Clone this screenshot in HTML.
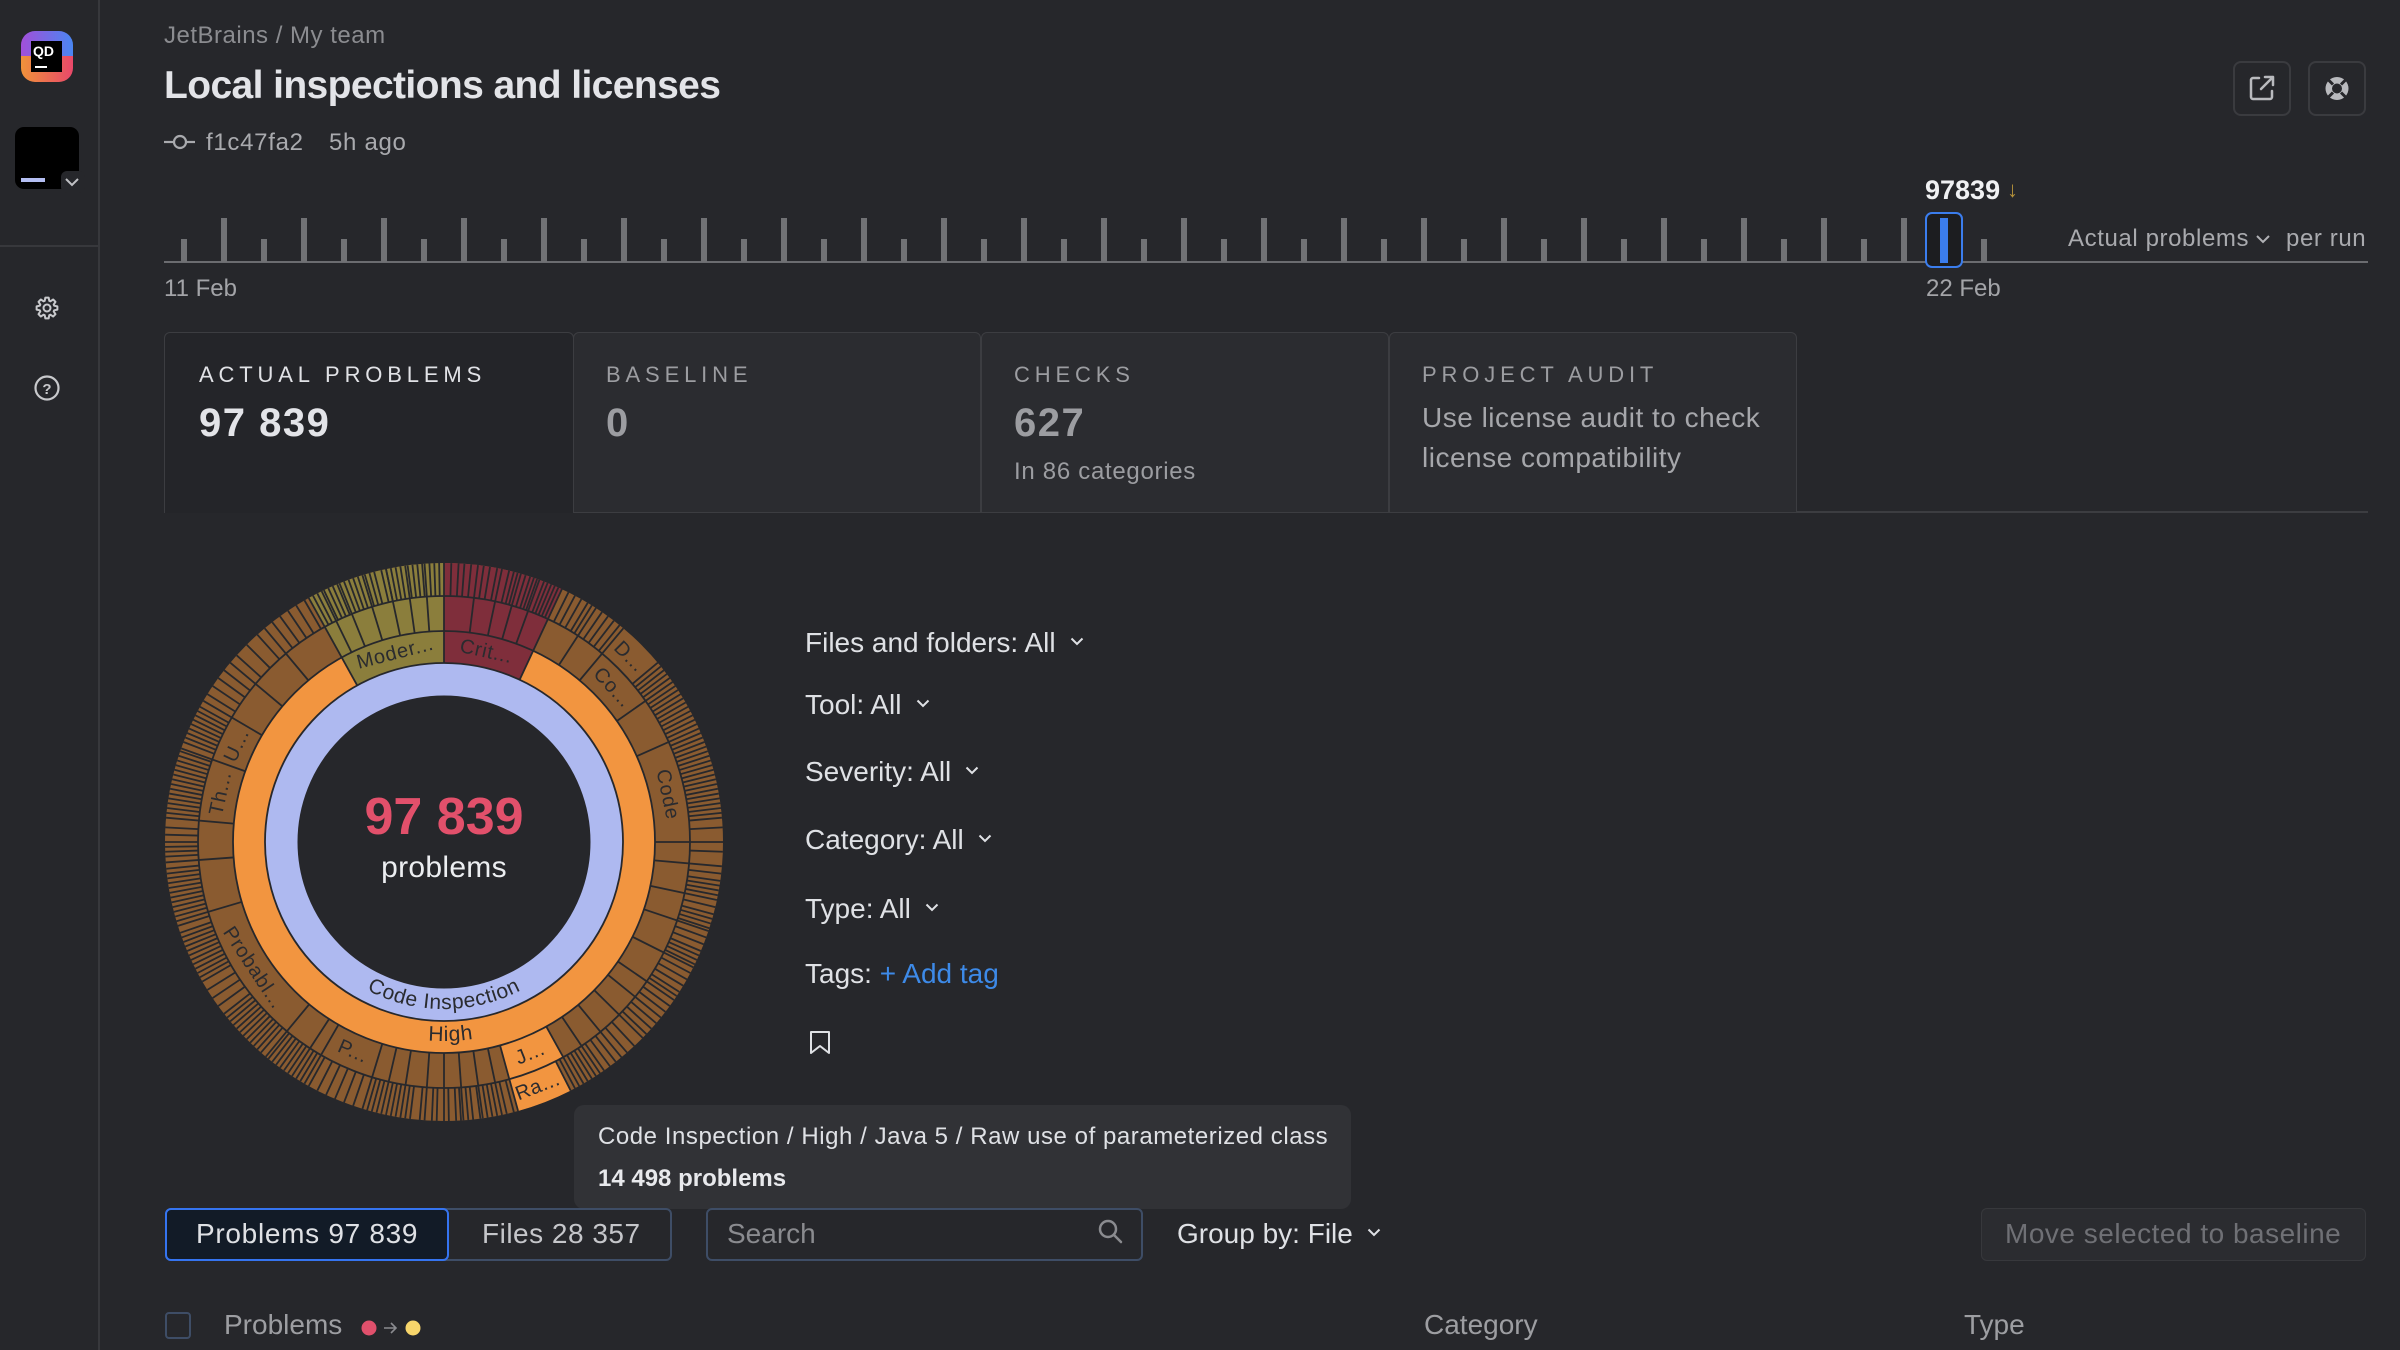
<!DOCTYPE html>
<html><head><meta charset="utf-8"><style>
html,body{margin:0;padding:0}
body{width:2400px;height:1350px;background:#26272b;overflow:hidden;position:relative;font-family:"Liberation Sans",Arial,sans-serif}
.t{position:absolute;white-space:nowrap;line-height:1}
.b{position:absolute;box-sizing:border-box}
.f{font-size:28px;color:#dfe1e5;left:805px}
.lbl{font-size:22px;letter-spacing:4.85px;top:364px}
.val{font-size:40px;font-weight:bold;letter-spacing:1.5px;top:403px}
.chev{display:inline-block;margin-left:14px;vertical-align:middle;position:relative;top:-3px}
</style></head><body>

<!-- sidebar lines -->
<div class="b" style="left:98px;top:0;width:2px;height:1350px;background:#37383c"></div>
<div class="b" style="left:0;top:245px;width:98px;height:2px;background:#37383c"></div>

<!-- tabs -->
<div class="b" style="left:573px;top:332px;width:408px;height:181px;background:#2b2c30;border:1.5px solid #3c3d41;border-radius:6px 6px 0 0"></div>
<div class="b" style="left:981px;top:332px;width:408px;height:181px;background:#2b2c30;border:1.5px solid #3c3d41;border-radius:6px 6px 0 0"></div>
<div class="b" style="left:1389px;top:332px;width:408px;height:181px;background:#2b2c30;border:1.5px solid #3c3d41;border-radius:6px 6px 0 0"></div>
<div class="b" style="left:164px;top:332px;width:410px;height:181px;background:#242529;border:1.5px solid #3c3d41;border-bottom:none;border-radius:6px 6px 0 0"></div>
<div class="b" style="left:1797px;top:511px;width:571px;height:2px;background:#3c3d41"></div>

<!-- top right buttons -->
<div class="b" style="left:2233px;top:61px;width:58px;height:55px;border:2px solid #3a3b3f;border-radius:8px"></div>
<div class="b" style="left:2308px;top:61px;width:58px;height:55px;border:2px solid #3a3b3f;border-radius:8px"></div>

<!-- tooltip -->
<div class="b" style="left:574px;top:1105px;width:777px;height:104px;background:#313236;border-radius:10px"></div>

<!-- controls -->
<div class="b" style="left:165px;top:1208px;width:507px;height:53px;border:2px solid #3e4d66;border-radius:6px"></div>
<div class="b" style="left:165px;top:1208px;width:284px;height:53px;border:2px solid #3574f0;background:#121b27;border-radius:6px"></div>
<div class="b" style="left:706px;top:1208px;width:437px;height:53px;border:2px solid #3e4d66;border-radius:6px"></div>
<div class="b" style="left:1981px;top:1208px;width:385px;height:53px;border:1.5px solid #37383c;background:#2b2c30;border-radius:6px"></div>
<div class="b" style="left:165px;top:1312px;width:26px;height:27px;border:2px solid #3e4d66;border-radius:4px"></div>

<svg width="2400" height="1350" viewBox="0 0 2400 1350" style="position:absolute;left:0;top:0">
<defs>
<linearGradient id="g1" x1="0" x2="1" y1="0" y2="0"><stop offset="0" stop-color="#a24fd9"/><stop offset="1" stop-color="#4a86f2"/></linearGradient>
<linearGradient id="g2" x1="0" x2="1" y1="0" y2="0"><stop offset="0" stop-color="#f0923a"/><stop offset="1" stop-color="#e9486a"/></linearGradient>
<line id="a" x1="0" y1="-179" x2="0" y2="-279"/>
<line id="c" x1="0" y1="-211" x2="0" y2="-279"/>
<line id="t" x1="0" y1="-246" x2="0" y2="-279"/>
<path id="arcCI" d="M -167 0 A 167 167 0 0 0 167 0" fill="none"/>
<path id="arcH" d="M -199 0 A 199 199 0 0 0 199 0" fill="none"/>
</defs>

<!-- logo -->
<path d="M21 56 V45 a14 14 0 0 1 14 -14 H59 a14 14 0 0 1 14 14 V56 Z" fill="url(#g1)"/>
<path d="M21 56 V68 a14 14 0 0 0 14 14 H59 a14 14 0 0 0 14 -14 V56 Z" fill="url(#g2)"/>
<rect x="31" y="41" width="31" height="31" fill="#000"/>
<text x="33" y="56" font-family="Liberation Sans, sans-serif" font-weight="bold" font-size="14" fill="#fff">QD</text>
<rect x="35" y="66" width="12" height="2" fill="#fff"/>

<!-- project tile -->
<rect x="15" y="127" width="64" height="62" rx="9" fill="#000"/>
<rect x="61" y="171" width="24" height="22" rx="6" fill="#26272b"/>
<rect x="21" y="178" width="24" height="4" fill="#b4bef2"/>
<path d="M66 179 l6 6 l6 -6" stroke="#c0c1c5" stroke-width="2" fill="none"/>

<!-- gear -->
<g transform="translate(47,308)" fill="none" stroke="#c8c9cc" stroke-width="2" stroke-linejoin="round">
<polygon points="7.13,-2.32 10.37,-1.64 10.37,1.64 7.13,2.32 6.68,3.41 8.49,6.17 6.17,8.49 3.41,6.68 2.32,7.13 1.64,10.37 -1.64,10.37 -2.32,7.13 -3.41,6.68 -6.17,8.49 -8.49,6.17 -6.68,3.41 -7.13,2.32 -10.37,1.64 -10.37,-1.64 -7.13,-2.32 -6.68,-3.41 -8.49,-6.17 -6.17,-8.49 -3.41,-6.68 -2.32,-7.13 -1.64,-10.37 1.64,-10.37 2.32,-7.13 3.41,-6.68 6.17,-8.49 8.49,-6.17 6.68,-3.41"/>
<circle r="3.5"/>
</g>
<!-- help -->
<circle cx="47" cy="388" r="11.5" fill="none" stroke="#c8c9cc" stroke-width="2.2"/>
<text x="47" y="394" text-anchor="middle" font-family="Liberation Sans, sans-serif" font-weight="bold" font-size="15" fill="#c8c9cc">?</text>

<!-- commit icon -->
<g stroke="#a9aaae" stroke-width="2.2" fill="none">
<line x1="164" y1="142" x2="174" y2="142"/><circle cx="180" cy="142" r="6"/><line x1="186" y1="142" x2="195" y2="142"/>
</g>

<!-- top right icons -->
<g stroke="#b9babe" stroke-width="2.5" fill="none" stroke-linecap="round" stroke-linejoin="round">
<path d="M2259 78 H2253 a2 2 0 0 0 -2 2 V97 a2 2 0 0 0 2 2 H2270 a2 2 0 0 0 2 -2 V91"/>
<path d="M2265 77 H2273 V85 M2273 77 L2261 89"/>
</g>
<circle cx="2337" cy="88.5" r="11.5" fill="#b9babe"/>
<circle cx="2337" cy="88.5" r="5" fill="#26272b"/>
<g stroke="#26272b" stroke-width="3" transform="translate(2337,88.5)">
<line x1="4" y1="-4" x2="9" y2="-9"/><line x1="-4" y1="-4" x2="-9" y2="-9"/><line x1="4" y1="4" x2="9" y2="9"/><line x1="-4" y1="4" x2="-9" y2="9"/>
</g>

<!-- timeline -->
<rect x="164" y="261" width="2204" height="2" fill="#6b6c70"/>
<g fill="#717275">
<rect x="181" y="239" width="6" height="23"/><rect x="261" y="239" width="6" height="23"/><rect x="341" y="239" width="6" height="23"/><rect x="421" y="239" width="6" height="23"/><rect x="501" y="239" width="6" height="23"/><rect x="581" y="239" width="6" height="23"/><rect x="661" y="239" width="6" height="23"/><rect x="741" y="239" width="6" height="23"/><rect x="821" y="239" width="6" height="23"/><rect x="901" y="239" width="6" height="23"/><rect x="981" y="239" width="6" height="23"/><rect x="1061" y="239" width="6" height="23"/><rect x="1141" y="239" width="6" height="23"/><rect x="1221" y="239" width="6" height="23"/><rect x="1301" y="239" width="6" height="23"/><rect x="1381" y="239" width="6" height="23"/><rect x="1461" y="239" width="6" height="23"/><rect x="1541" y="239" width="6" height="23"/><rect x="1621" y="239" width="6" height="23"/><rect x="1701" y="239" width="6" height="23"/><rect x="1781" y="239" width="6" height="23"/><rect x="1861" y="239" width="6" height="23"/><rect x="1981" y="239" width="6" height="23"/>
<rect x="221" y="218" width="6" height="44"/><rect x="301" y="218" width="6" height="44"/><rect x="381" y="218" width="6" height="44"/><rect x="461" y="218" width="6" height="44"/><rect x="541" y="218" width="6" height="44"/><rect x="621" y="218" width="6" height="44"/><rect x="701" y="218" width="6" height="44"/><rect x="781" y="218" width="6" height="44"/><rect x="861" y="218" width="6" height="44"/><rect x="941" y="218" width="6" height="44"/><rect x="1021" y="218" width="6" height="44"/><rect x="1101" y="218" width="6" height="44"/><rect x="1181" y="218" width="6" height="44"/><rect x="1261" y="218" width="6" height="44"/><rect x="1341" y="218" width="6" height="44"/><rect x="1421" y="218" width="6" height="44"/><rect x="1501" y="218" width="6" height="44"/><rect x="1581" y="218" width="6" height="44"/><rect x="1661" y="218" width="6" height="44"/><rect x="1741" y="218" width="6" height="44"/><rect x="1821" y="218" width="6" height="44"/><rect x="1901" y="218" width="6" height="44"/>
</g>
<rect x="1926" y="213" width="36" height="54" rx="6" fill="#1c1d20" stroke="#3b7ded" stroke-width="2"/>
<rect x="1940" y="218" width="8" height="45" fill="#3b7ded"/>

<!-- chevron for Actual problems -->
<path d="M2257 236 l6 6 l6 -6" stroke="#b0b1b5" stroke-width="2" fill="none"/>

<!-- bookmark -->
<path d="M811 1032 h18 v21 l-9 -7 l-9 7 z" fill="none" stroke="#dfe1e5" stroke-width="2" stroke-linejoin="round"/>

<!-- search icon -->
<circle cx="1108" cy="1229" r="8" fill="none" stroke="#8a8b8f" stroke-width="2.5"/>
<line x1="1114" y1="1235" x2="1121" y2="1242" stroke="#8a8b8f" stroke-width="2.5" stroke-linecap="round"/>

<!-- table header dots -->
<circle cx="369" cy="1328" r="7.5" fill="#e0506c"/>
<circle cx="413" cy="1328" r="7.5" fill="#f7d56b"/>
<path d="M384 1328 h12 M391 1323 l5 5 l-5 5" stroke="#8a8b8f" stroke-width="1.6" fill="none"/>

<!-- sunburst -->
<g transform="translate(444,842)">
<circle r="162.75" fill="none" stroke="#aeb9f0" stroke-width="32.5"/>
<circle r="195" fill="none" stroke="#f29540" stroke-width="32"/>
<circle r="228.5" fill="none" stroke="#8a5b30" stroke-width="35"/>
<circle r="262.5" fill="none" stroke="#8a5b30" stroke-width="33"/>
<g transform="rotate(-90)" fill="none">
<circle r="195" stroke="#7f2e3b" stroke-width="32" stroke-dasharray="85.08 3000"/>
<circle r="195" stroke="#8b7e3c" stroke-width="32" stroke-dasharray="98.70 3000" stroke-dashoffset="-1126.52"/>
<circle r="228.5" stroke="#7f2e3b" stroke-width="35" stroke-dasharray="99.70 3000"/>
<circle r="228.5" stroke="#8b7e3c" stroke-width="35" stroke-dasharray="115.65 3000" stroke-dashoffset="-1320.05"/>
<circle r="228.5" stroke="#f29540" stroke-width="35" stroke-dasharray="54.24 3000" stroke-dashoffset="-602.20"/>
<circle r="262.5" stroke="#7f2e3b" stroke-width="33" stroke-dasharray="114.54 3000"/>
<circle r="262.5" stroke="#8b7e3c" stroke-width="33" stroke-dasharray="132.86 3000" stroke-dashoffset="-1516.47"/>
<circle r="262.5" stroke="#f29540" stroke-width="33" stroke-dasharray="53.15 3000" stroke-dashoffset="-700.97"/>
</g>
<g fill="none" stroke="#27282c" stroke-width="1.8">
<circle r="179"/><circle r="211"/><circle r="246"/>
</g>
<g stroke="#27282c" stroke-width="1.8">
<use href="#a" transform="rotate(0)"/><use href="#a" transform="rotate(25)"/><use href="#a" transform="rotate(331)"/>
<use href="#c" transform="rotate(7)"/><use href="#c" transform="rotate(12)"/><use href="#c" transform="rotate(16)"/><use href="#c" transform="rotate(20)"/>
<use href="#c" transform="rotate(33)"/><use href="#c" transform="rotate(40)"/><use href="#c" transform="rotate(55)"/><use href="#c" transform="rotate(66)"/><use href="#c" transform="rotate(90)"/><use href="#c" transform="rotate(95)"/><use href="#c" transform="rotate(102)"/><use href="#c" transform="rotate(108.6)"/><use href="#c" transform="rotate(116.7)"/><use href="#c" transform="rotate(124.5)"/><use href="#c" transform="rotate(129)"/><use href="#c" transform="rotate(134.6)"/><use href="#c" transform="rotate(140.5)"/><use href="#c" transform="rotate(146)"/><use href="#c" transform="rotate(151)"/><use href="#c" transform="rotate(164.6)"/><use href="#c" transform="rotate(168)"/><use href="#c" transform="rotate(172)"/><use href="#c" transform="rotate(176)"/><use href="#c" transform="rotate(180)"/><use href="#c" transform="rotate(184)"/><use href="#c" transform="rotate(189)"/><use href="#c" transform="rotate(193)"/><use href="#c" transform="rotate(197)"/><use href="#c" transform="rotate(210)"/><use href="#c" transform="rotate(213)"/><use href="#c" transform="rotate(219.7)"/><use href="#c" transform="rotate(253.5)"/><use href="#c" transform="rotate(265.8)"/><use href="#c" transform="rotate(275)"/><use href="#c" transform="rotate(289.6)"/><use href="#c" transform="rotate(300.4)"/><use href="#c" transform="rotate(310)"/><use href="#c" transform="rotate(320)"/>
<use href="#c" transform="rotate(334)"/><use href="#c" transform="rotate(338)"/><use href="#c" transform="rotate(343)"/><use href="#c" transform="rotate(348)"/><use href="#c" transform="rotate(352)"/><use href="#c" transform="rotate(356)"/>
<!-- type ring lines -->
<use href="#t" transform="rotate(1.5)"/><use href="#t" transform="rotate(3)"/><use href="#t" transform="rotate(4.2)"/><use href="#t" transform="rotate(5.6)"/><use href="#t" transform="rotate(8.2)"/><use href="#t" transform="rotate(9.5)"/><use href="#t" transform="rotate(11)"/><use href="#t" transform="rotate(13.5)"/><use href="#t" transform="rotate(14.5)"/><use href="#t" transform="rotate(15.3)"/><use href="#t" transform="rotate(17)"/><use href="#t" transform="rotate(18)"/><use href="#t" transform="rotate(18.8)"/><use href="#t" transform="rotate(19.5)"/><use href="#t" transform="rotate(21)"/><use href="#t" transform="rotate(21.8)"/><use href="#t" transform="rotate(22.6)"/><use href="#t" transform="rotate(23.4)"/><use href="#t" transform="rotate(24.2)"/>
<use href="#t" transform="rotate(26.5)"/><use href="#t" transform="rotate(28)"/><use href="#t" transform="rotate(29.5)"/><use href="#t" transform="rotate(31)"/><use href="#t" transform="rotate(32)"/>
<use href="#t" transform="rotate(34.5)"/><use href="#t" transform="rotate(36)"/><use href="#t" transform="rotate(37.5)"/><use href="#t" transform="rotate(39)"/>
<use href="#t" transform="rotate(50)"/><use href="#t" transform="rotate(51)"/><use href="#t" transform="rotate(52)"/><use href="#t" transform="rotate(53)"/><use href="#t" transform="rotate(54)"/>
<use href="#t" transform="rotate(56)"/><use href="#t" transform="rotate(57)"/><use href="#t" transform="rotate(58)"/><use href="#t" transform="rotate(59)"/><use href="#t" transform="rotate(60)"/><use href="#t" transform="rotate(61)"/><use href="#t" transform="rotate(62)"/><use href="#t" transform="rotate(63)"/><use href="#t" transform="rotate(64)"/><use href="#t" transform="rotate(65)"/>
<use href="#t" transform="rotate(67)"/><use href="#t" transform="rotate(68)"/><use href="#t" transform="rotate(69)"/><use href="#t" transform="rotate(70)"/><use href="#t" transform="rotate(71)"/><use href="#t" transform="rotate(72)"/><use href="#t" transform="rotate(73)"/><use href="#t" transform="rotate(74)"/><use href="#t" transform="rotate(75)"/><use href="#t" transform="rotate(76)"/><use href="#t" transform="rotate(77)"/><use href="#t" transform="rotate(78)"/><use href="#t" transform="rotate(79)"/><use href="#t" transform="rotate(80)"/><use href="#t" transform="rotate(81)"/><use href="#t" transform="rotate(82)"/><use href="#t" transform="rotate(83)"/><use href="#t" transform="rotate(84)"/><use href="#t" transform="rotate(85)"/><use href="#t" transform="rotate(87)"/>
<use href="#t" transform="rotate(92)"/>
<use href="#t" transform="rotate(96.5)"/><use href="#t" transform="rotate(98)"/><use href="#t" transform="rotate(99)"/><use href="#t" transform="rotate(100)"/><use href="#t" transform="rotate(101)"/>
<use href="#t" transform="rotate(103.5)"/><use href="#t" transform="rotate(105)"/><use href="#t" transform="rotate(106)"/><use href="#t" transform="rotate(107)"/><use href="#t" transform="rotate(108)"/>
<use href="#t" transform="rotate(110)"/><use href="#t" transform="rotate(111.5)"/><use href="#t" transform="rotate(113)"/><use href="#t" transform="rotate(114)"/><use href="#t" transform="rotate(115)"/><use href="#t" transform="rotate(116)"/>
<use href="#t" transform="rotate(118)"/><use href="#t" transform="rotate(119.5)"/><use href="#t" transform="rotate(121)"/><use href="#t" transform="rotate(122.5)"/><use href="#t" transform="rotate(123.5)"/>
<use href="#t" transform="rotate(126)"/><use href="#t" transform="rotate(127.5)"/>
<use href="#t" transform="rotate(130.5)"/><use href="#t" transform="rotate(132)"/><use href="#t" transform="rotate(133.5)"/>
<use href="#t" transform="rotate(137)"/><use href="#t" transform="rotate(139)"/>
<use href="#t" transform="rotate(142)"/><use href="#t" transform="rotate(143.5)"/><use href="#t" transform="rotate(145)"/>
<use href="#t" transform="rotate(147)"/><use href="#t" transform="rotate(148)"/><use href="#t" transform="rotate(149)"/><use href="#t" transform="rotate(150)"/>
<use href="#t" transform="rotate(152)"/><use href="#t" transform="rotate(153)"/>
<use href="#t" transform="rotate(165.5)"/><use href="#t" transform="rotate(167)"/><use href="#t" transform="rotate(169)"/><use href="#t" transform="rotate(170)"/><use href="#t" transform="rotate(171)"/><use href="#t" transform="rotate(172.5)"/><use href="#t" transform="rotate(174)"/><use href="#t" transform="rotate(175)"/><use href="#t" transform="rotate(176.5)"/><use href="#t" transform="rotate(177.5)"/><use href="#t" transform="rotate(179)"/><use href="#t" transform="rotate(181.5)"/><use href="#t" transform="rotate(182.5)"/><use href="#t" transform="rotate(185)"/><use href="#t" transform="rotate(187)"/><use href="#t" transform="rotate(188)"/><use href="#t" transform="rotate(190)"/><use href="#t" transform="rotate(191)"/><use href="#t" transform="rotate(192)"/><use href="#t" transform="rotate(194)"/><use href="#t" transform="rotate(195)"/><use href="#t" transform="rotate(196)"/>
<use href="#t" transform="rotate(199)"/><use href="#t" transform="rotate(201)"/><use href="#t" transform="rotate(203)"/><use href="#t" transform="rotate(205)"/><use href="#t" transform="rotate(207)"/><use href="#t" transform="rotate(209)"/>
<use href="#t" transform="rotate(211)"/><use href="#t" transform="rotate(212)"/>
<use href="#t" transform="rotate(214)"/><use href="#t" transform="rotate(215)"/><use href="#t" transform="rotate(216)"/><use href="#t" transform="rotate(217)"/><use href="#t" transform="rotate(218)"/><use href="#t" transform="rotate(219)"/>
<use href="#t" transform="rotate(221)"/><use href="#t" transform="rotate(222)"/><use href="#t" transform="rotate(223)"/><use href="#t" transform="rotate(224)"/><use href="#t" transform="rotate(225)"/><use href="#t" transform="rotate(226)"/><use href="#t" transform="rotate(227)"/><use href="#t" transform="rotate(228)"/><use href="#t" transform="rotate(229)"/><use href="#t" transform="rotate(230)"/><use href="#t" transform="rotate(231)"/><use href="#t" transform="rotate(232)"/><use href="#t" transform="rotate(234)"/><use href="#t" transform="rotate(236)"/><use href="#t" transform="rotate(238)"/><use href="#t" transform="rotate(240)"/><use href="#t" transform="rotate(241)"/><use href="#t" transform="rotate(242)"/><use href="#t" transform="rotate(243)"/><use href="#t" transform="rotate(244)"/><use href="#t" transform="rotate(245)"/><use href="#t" transform="rotate(246)"/><use href="#t" transform="rotate(247)"/><use href="#t" transform="rotate(248)"/><use href="#t" transform="rotate(249)"/><use href="#t" transform="rotate(250)"/><use href="#t" transform="rotate(251)"/><use href="#t" transform="rotate(252.5)"/>
<use href="#t" transform="rotate(254.5)"/><use href="#t" transform="rotate(255.5)"/><use href="#t" transform="rotate(256.5)"/><use href="#t" transform="rotate(257.5)"/><use href="#t" transform="rotate(258.5)"/><use href="#t" transform="rotate(259.5)"/><use href="#t" transform="rotate(260.5)"/><use href="#t" transform="rotate(261.5)"/><use href="#t" transform="rotate(262.5)"/><use href="#t" transform="rotate(263.5)"/><use href="#t" transform="rotate(264.5)"/>
<use href="#t" transform="rotate(267)"/><use href="#t" transform="rotate(268)"/><use href="#t" transform="rotate(269)"/><use href="#t" transform="rotate(270)"/><use href="#t" transform="rotate(271.5)"/><use href="#t" transform="rotate(273)"/>
<use href="#t" transform="rotate(276)"/><use href="#t" transform="rotate(277)"/><use href="#t" transform="rotate(278)"/><use href="#t" transform="rotate(279)"/><use href="#t" transform="rotate(280)"/><use href="#t" transform="rotate(281)"/><use href="#t" transform="rotate(282)"/><use href="#t" transform="rotate(283)"/><use href="#t" transform="rotate(284)"/><use href="#t" transform="rotate(285)"/><use href="#t" transform="rotate(286)"/><use href="#t" transform="rotate(287)"/><use href="#t" transform="rotate(288)"/><use href="#t" transform="rotate(289)"/>
<use href="#t" transform="rotate(291)"/><use href="#t" transform="rotate(292)"/><use href="#t" transform="rotate(293)"/><use href="#t" transform="rotate(294)"/><use href="#t" transform="rotate(295)"/><use href="#t" transform="rotate(296)"/><use href="#t" transform="rotate(297)"/><use href="#t" transform="rotate(298)"/><use href="#t" transform="rotate(299)"/>
<use href="#t" transform="rotate(302)"/><use href="#t" transform="rotate(304)"/><use href="#t" transform="rotate(306)"/><use href="#t" transform="rotate(308)"/>
<use href="#t" transform="rotate(312)"/><use href="#t" transform="rotate(315)"/><use href="#t" transform="rotate(318)"/>
<use href="#t" transform="rotate(322)"/><use href="#t" transform="rotate(324)"/><use href="#t" transform="rotate(326)"/><use href="#t" transform="rotate(328)"/><use href="#t" transform="rotate(330)"/>
<use href="#t" transform="rotate(332)"/><use href="#t" transform="rotate(333)"/><use href="#t" transform="rotate(334.5)"/><use href="#t" transform="rotate(335.5)"/><use href="#t" transform="rotate(336.5)"/><use href="#t" transform="rotate(337.5)"/><use href="#t" transform="rotate(339)"/><use href="#t" transform="rotate(340)"/><use href="#t" transform="rotate(341)"/><use href="#t" transform="rotate(342)"/><use href="#t" transform="rotate(343.5)"/><use href="#t" transform="rotate(344.5)"/><use href="#t" transform="rotate(345.5)"/><use href="#t" transform="rotate(347)"/><use href="#t" transform="rotate(348)"/><use href="#t" transform="rotate(349)"/><use href="#t" transform="rotate(350)"/><use href="#t" transform="rotate(351)"/><use href="#t" transform="rotate(352.5)"/><use href="#t" transform="rotate(353.5)"/><use href="#t" transform="rotate(354.5)"/><use href="#t" transform="rotate(355.5)"/><use href="#t" transform="rotate(357)"/><use href="#t" transform="rotate(358)"/><use href="#t" transform="rotate(359)"/>
</g>
<!-- labels -->
<g font-family="Liberation Sans, sans-serif" font-size="20" fill="#2a2b2f" text-anchor="middle" dominant-baseline="central" letter-spacing="0.8">
<text transform="rotate(345.5) translate(0,-195)">Moder...</text>
<text transform="rotate(12.5) translate(0,-195)">Crit...</text>
<text transform="rotate(45) translate(0,-262)">D...</text>
<text transform="rotate(47.5) translate(0,-228.5)">Co...</text>
<text transform="rotate(78) translate(0,-228.5)">Code</text>
<text transform="rotate(157.8) translate(0,-228.5) rotate(180)">J...</text>
<text transform="rotate(159) translate(0,-262) rotate(180)">Ra...</text>
<text transform="rotate(203.5) translate(0,-228.5) rotate(180)">P...</text>
<text transform="rotate(236.6) translate(0,-228.5) rotate(180)">Probabl...</text>
<text transform="rotate(282.3) translate(0,-228.5)">Th...</text>
<text transform="rotate(295) translate(0,-228.5)">U...</text>
</g>
<text font-family="Liberation Sans, sans-serif" font-size="21" fill="#2a2b2f" letter-spacing="0.6"><textPath href="#arcCI" startOffset="50%" text-anchor="middle">Code Inspection</textPath></text>
<text font-family="Liberation Sans, sans-serif" font-size="21" fill="#2a2b2f" letter-spacing="0.6"><textPath href="#arcH" startOffset="51.1%" text-anchor="middle">High</textPath></text>
<text x="0" y="-8" text-anchor="middle" font-family="Liberation Sans, sans-serif" font-weight="bold" font-size="52" fill="#e2506b">97 839</text>
<text x="0" y="35" text-anchor="middle" font-family="Liberation Sans, sans-serif" font-size="30" fill="#eceef1" letter-spacing="0.3">problems</text>
</g>
</svg>

<!-- header text -->
<div class="t" style="left:164px;top:24px;font-size:24px;letter-spacing:.5px;color:#8b8c90">JetBrains / My team</div>
<div class="t" style="left:164px;top:66px;font-size:39px;font-weight:bold;letter-spacing:-.6px;color:#e3e4e8">Local inspections and licenses</div>
<div class="t" style="left:206px;top:131px;font-size:24px;letter-spacing:.7px;color:#a9aaae">f1c47fa2</div>
<div class="t" style="left:329px;top:131px;font-size:24px;letter-spacing:.7px;color:#a9aaae">5h ago</div>

<div class="t" style="left:1925px;top:177px;font-size:27px;font-weight:bold;color:#f0f1f3">97839</div>
<div class="t" style="left:2007px;top:179px;font-size:22px;color:#b5923a">↓</div>
<div class="t" style="left:2068px;top:227px;font-size:24px;letter-spacing:.6px;color:#a9aaae">Actual problems</div>
<div class="t" style="left:2286px;top:227px;font-size:24px;letter-spacing:.6px;color:#a9aaae">per run</div>
<div class="t" style="left:164px;top:277px;font-size:24px;color:#a3a4a8">11 Feb</div>
<div class="t" style="left:1926px;top:277px;font-size:24px;color:#a3a4a8">22 Feb</div>

<!-- tabs text -->
<div class="t lbl" style="left:199px;color:#e1e2e6">ACTUAL PROBLEMS</div>
<div class="t lbl" style="left:606px;color:#9c9da1">BASELINE</div>
<div class="t lbl" style="left:1014px;color:#9c9da1">CHECKS</div>
<div class="t lbl" style="left:1422px;color:#9c9da1">PROJECT AUDIT</div>
<div class="t val" style="left:199px;color:#e3e4e8">97 839</div>
<div class="t val" style="left:606px;color:#9c9da1">0</div>
<div class="t val" style="left:1014px;color:#9c9da1">627</div>
<div class="t" style="left:1014px;top:460px;font-size:24px;letter-spacing:.7px;color:#9c9da1">In 86 categories</div>
<div class="t" style="left:1422px;top:404px;font-size:28px;letter-spacing:.5px;color:#a6a7ab">Use license audit to check</div>
<div class="t" style="left:1422px;top:444px;font-size:28px;letter-spacing:.5px;color:#a6a7ab">license compatibility</div>

<!-- filters -->
<div class="t f" style="top:629px">Files and folders: All<svg class="chev" width="14" height="9" viewBox="0 0 14 9"><path d="M1.5 1.5 L7 7 L12.5 1.5" stroke="#dfe1e5" stroke-width="2" fill="none"/></svg></div>
<div class="t f" style="top:691px">Tool: All<svg class="chev" width="14" height="9" viewBox="0 0 14 9"><path d="M1.5 1.5 L7 7 L12.5 1.5" stroke="#dfe1e5" stroke-width="2" fill="none"/></svg></div>
<div class="t f" style="top:758px">Severity: All<svg class="chev" width="14" height="9" viewBox="0 0 14 9"><path d="M1.5 1.5 L7 7 L12.5 1.5" stroke="#dfe1e5" stroke-width="2" fill="none"/></svg></div>
<div class="t f" style="top:826px">Category: All<svg class="chev" width="14" height="9" viewBox="0 0 14 9"><path d="M1.5 1.5 L7 7 L12.5 1.5" stroke="#dfe1e5" stroke-width="2" fill="none"/></svg></div>
<div class="t f" style="top:895px">Type: All<svg class="chev" width="14" height="9" viewBox="0 0 14 9"><path d="M1.5 1.5 L7 7 L12.5 1.5" stroke="#dfe1e5" stroke-width="2" fill="none"/></svg></div>
<div class="t f" style="top:960px">Tags: <span style="color:#3d8ae8">+ Add tag</span></div>

<!-- tooltip text -->
<div class="t" style="left:598px;top:1125px;font-size:24px;letter-spacing:.55px;color:#dfe1e5">Code Inspection / High / Java 5 / Raw use of parameterized class</div>
<div class="t" style="left:598px;top:1167px;font-size:24px;font-weight:bold;color:#e8e9ec">14 498 problems</div>

<!-- controls text -->
<div class="t" style="left:196px;top:1220px;font-size:28px;letter-spacing:.7px;color:#dfe1e5">Problems 97 839</div>
<div class="t" style="left:482px;top:1220px;font-size:28px;letter-spacing:.5px;color:#c5c6ca">Files 28 357</div>
<div class="t" style="left:727px;top:1220px;font-size:28px;color:#8a8b8f">Search</div>
<div class="t" style="left:1177px;top:1220px;font-size:28px;color:#dfe1e5">Group by: File<svg class="chev" width="14" height="9" viewBox="0 0 14 9"><path d="M1.5 1.5 L7 7 L12.5 1.5" stroke="#dfe1e5" stroke-width="2" fill="none"/></svg></div>
<div class="t" style="left:2005px;top:1220px;font-size:28px;letter-spacing:.5px;color:#6f7075">Move selected to baseline</div>

<!-- table header -->
<div class="t" style="left:224px;top:1311px;font-size:28px;color:#9d9ea2">Problems</div>
<div class="t" style="left:1424px;top:1311px;font-size:28px;color:#9d9ea2">Category</div>
<div class="t" style="left:1964px;top:1311px;font-size:28px;color:#9d9ea2">Type</div>

</body></html>
